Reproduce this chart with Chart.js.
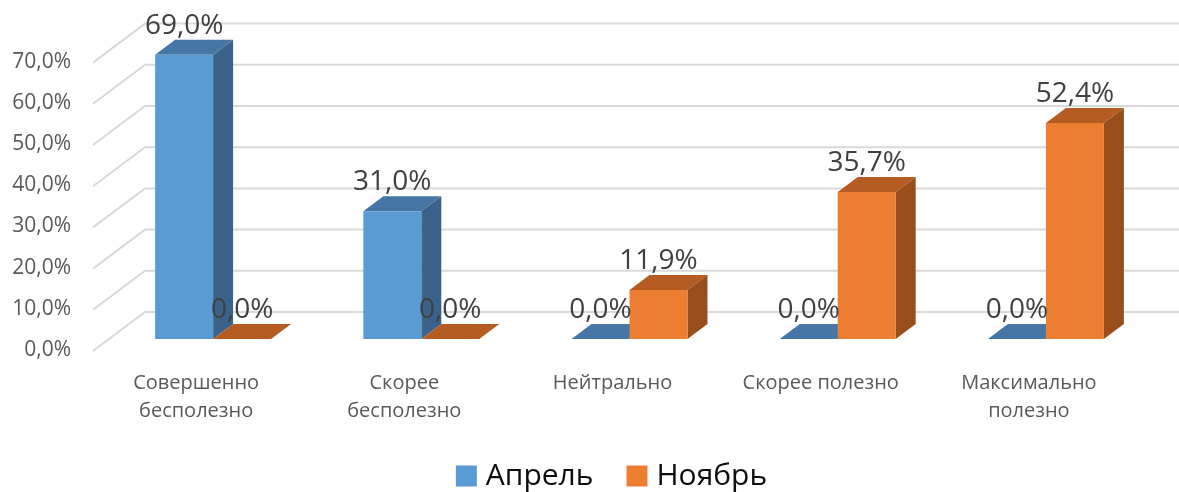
<!DOCTYPE html>
<html lang="ru">
<head>
<meta charset="utf-8">
<title>Апрель / Ноябрь</title>
<script src="https://cdn.jsdelivr.net/npm/chart.js@4.4.1/dist/chart.umd.min.js"></script>
<style>
    html, body { margin: 0; padding: 0; background: #fff; }
    #wrap { width: 1179px; height: 492px; position: relative; }
</style>
</head>
<body>
<div id="wrap"><canvas id="usefulChart"></canvas></div>
<script>
// Data
const categories = [
    ['Совершенно', 'бесполезно'],
    ['Скорее', 'бесполезно'],
    'Нейтрально',
    'Скорее полезно',
    ['Максимально', 'полезно']
];
const seriesNames = ['Апрель', 'Ноябрь'];
const aprilValues = [69.0, 31.0, 0.0, 0.0, 0.0];
const novemberValues = [0.0, 0.0, 11.9, 35.7, 52.4];
const yTickValues = [0, 10, 20, 30, 40, 50, 60, 70];

// front, top and side colours per series
const faceColors = [
    { front: '#5b9bd5', top: '#4676a5', side: '#3b6288' },
    { front: '#ed7d31', top: '#b45c22', side: '#984e1c' }
];
const FONT = "'Open Sans', 'DejaVu Sans', sans-serif";
const DX = 20, DY = 15; // bar depth

const fmt = v => v.toFixed(1).replace('.', ',') + '%';

// back wall + side wall gridlines, then top/side faces of bars
const bar3d = {
    id: 'bar3d',
    beforeDatasetsDraw(chart) {
        const ctx = chart.ctx;
        const area = chart.chartArea;
        const yScale = chart.scales.y;
        ctx.save();
        ctx.strokeStyle = '#d9d9d9';
        ctx.lineWidth = 2;
        yTickValues.forEach(v => {
            const py = yScale.getPixelForValue(v);
            ctx.beginPath();
            ctx.moveTo(area.left - 16, py + 12);
            ctx.lineTo(area.left + 36, py - 27);
            ctx.lineTo(chart.width, py - 27);
            ctx.stroke();
        });

        chart.data.datasets.forEach((ds, di) => {
            const c = faceColors[di];
            chart.getDatasetMeta(di).data.forEach(bar => {
                const l = bar.x - bar.width / 2;
                const r = bar.x + bar.width / 2;
                const top = bar.y, base = bar.base;
                // top face
                ctx.fillStyle = c.top;
                ctx.beginPath();
                ctx.moveTo(l, top);
                ctx.lineTo(r, top);
                ctx.lineTo(r + DX, top - DY);
                ctx.lineTo(l + DX, top - DY);
                ctx.closePath();
                ctx.fill();
                // side face
                if (base - top > 0.5) {
                    ctx.fillStyle = c.side;
                    ctx.beginPath();
                    ctx.moveTo(r, top);
                    ctx.lineTo(r + DX, top - DY);
                    ctx.lineTo(r + DX, base - DY);
                    ctx.lineTo(r, base);
                    ctx.closePath();
                    ctx.fill();
                }
            });
        });
        ctx.restore();
    },
    afterDatasetsDraw(chart) {
        const ctx = chart.ctx;
        ctx.save();
        ctx.font = '28px ' + FONT;
        ctx.fillStyle = '#404040';
        ctx.textAlign = 'center';
        ctx.textBaseline = 'alphabetic';
        chart.data.datasets.forEach((ds, di) => {
            chart.getDatasetMeta(di).data.forEach((bar, i) => {
                ctx.fillText(fmt(ds.data[i]), bar.x, bar.y - 21);
            });
        });
        ctx.restore();
    },
    afterDraw(chart) {
        // legend
        const ctx = chart.ctx;
        const area = chart.chartArea;
        ctx.save();
        ctx.font = '30px ' + FONT;
        ctx.textBaseline = 'middle';
        const box = 21, gap = 9, itemGap = 33;
        const widths = seriesNames.map(n => ctx.measureText(n).width);
        const total = widths.reduce((a, w) => a + box + gap + w, 0) + itemGap * (seriesNames.length - 1);
        let x = (area.left + area.right) / 2 - 18 - total / 2;
        const cy = 476;
        seriesNames.forEach((n, i) => {
            ctx.fillStyle = faceColors[i].front;
            ctx.fillRect(x, cy - box / 2, box, box);
            ctx.fillStyle = '#0d0d0d';
            ctx.fillText(n, x + box + gap, cy);
            x += box + gap + widths[i] + itemGap;
        });
        ctx.restore();
    }
};

const ctx = document.getElementById('usefulChart').getContext('2d');
new Chart(ctx, {
    type: 'bar',
    data: {
        labels: categories,
        datasets: [
            { label: seriesNames[0], data: aprilValues, backgroundColor: faceColors[0].front },
            { label: seriesNames[1], data: novemberValues, backgroundColor: faceColors[1].front }
        ]
    },
    options: {
        responsive: true,
        maintainAspectRatio: false,
        animation: false,
        events: [],
        layout: { padding: { top: 50, right: 29, bottom: 53, left: 0 } },
        datasets: { bar: { categoryPercentage: 0.557, barPercentage: 1, borderWidth: 0 } },
        plugins: {
            legend: { display: false },
            tooltip: { enabled: false }
        },
        scales: {
            x: {
                grid: { display: false, drawTicks: false },
                border: { display: false },
                ticks: {
                    color: '#595959',
                    font: { family: FONT, size: 20, lineHeight: 1.4 },
                    padding: 30,
                    labelOffset: -17,
                    maxRotation: 0,
                    autoSkip: false
                },
                afterFit: s => { s.height = 100; }
            },
            y: {
                min: 0,
                max: 70,
                grid: { display: false, drawTicks: false },
                border: { display: false },
                ticks: {
                    stepSize: 10,
                    color: '#595959',
                    font: { family: FONT, size: 21 },
                    padding: 38,
                    labelOffset: 11,
                    callback: v => fmt(v)
                },
                afterFit: s => { s.width = 109; }
            }
        }
    },
    plugins: [bar3d]
});
</script>
</body>
</html>
